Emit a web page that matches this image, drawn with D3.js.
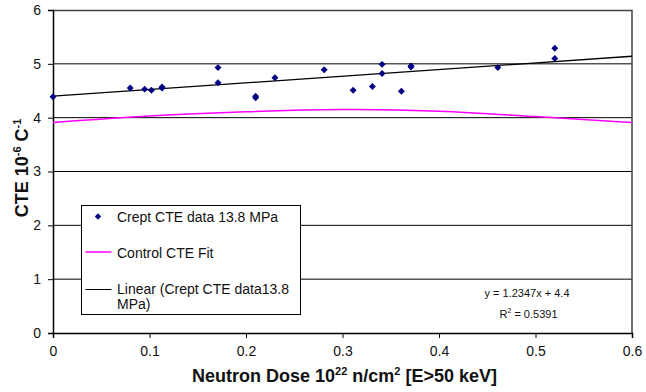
<!DOCTYPE html>
<html>
<head>
<meta charset="utf-8">
<script src="https://cdn.jsdelivr.net/npm/d3@7"></script>
<style>
  body { margin: 0; background: #fff; }
  text { font-family: "Liberation Sans", Arial, sans-serif; }
</style>
</head>
<body>
<div id="chart"></div>
<script>
// crept CTE measurements (dose 10^22 n/cm2, CTE 10^-6 /C)
const doseX = [0, 0.08, 0.095, 0.102, 0.113, 0.113, 0.171, 0.171, 0.21, 0.21, 0.23, 0.281,
               0.311, 0.331, 0.341, 0.341, 0.361, 0.371, 0.371, 0.461, 0.52, 0.52];
const cteY  = [4.39, 4.55, 4.53, 4.51, 4.55, 4.57, 4.93, 4.65, 4.37, 4.40, 4.74, 4.89,
               4.51, 4.58, 4.99, 4.82, 4.49, 4.94, 4.96, 4.93, 5.29, 5.10];

// control CTE fit
const fitX = [0, 0.1, 0.2, 0.3, 0.4, 0.5, 0.6];
const fitY = [3.91, 4.03, 4.11, 4.15, 4.12, 4.02, 3.91];

// linear trendline as printed on the chart
const trendSlope = 1.2347, trendIntercept = 4.4;

const xTicks = [0, 0.1, 0.2, 0.3, 0.4, 0.5, 0.6];
const yTicks = [0, 1, 2, 3, 4, 5, 6];

const margin = ({top: 10, right: 14, bottom: 59, left: 53});
const width = 646 - margin.left - margin.right,
  height = 392 - margin.top - margin.bottom;

const svg = d3.select("#chart")
  .append("svg")
  .attr("width", width + margin.left + margin.right)
  .attr("height", height + margin.top + margin.bottom)
  .append("g")
  .attr("transform", `translate(${margin.left}, ${margin.top})`);

const xScale = d3.scaleLinear().domain([0, 0.6]).range([0, width]);
const yScale = d3.scaleLinear().domain([0, 6]).range([height, 0]);

// gridlines
svg.selectAll(".grid")
  .data(yTicks.filter(d => d > 0 && d < 6))
  .enter().append("line")
  .attr("class", "grid")
  .attr("x1", 0).attr("x2", width)
  .attr("y1", d => yScale(d)).attr("y2", d => yScale(d))
  .attr("stroke", "#000").attr("stroke-width", 1);

// frame top / right
svg.append("path")
  .attr("d", `M0,0.5H${width}V${height}`)
  .attr("fill", "none")
  .attr("stroke", "#444")
  .attr("stroke-width", 1.5);

const xAxis = d3.axisBottom(xScale).tickValues(xTicks).tickSize(5).tickPadding(8)
  .tickFormat(d => d === 0 ? "0" : d3.format(".1f")(d));
const yAxis = d3.axisLeft(yScale).tickValues(yTicks).tickSize(5).tickPadding(7)
  .tickFormat(d3.format("d"));

svg.append("g")
  .attr("class", "axis x-axis")
  .attr("transform", `translate(0, ${height})`)
  .call(xAxis);

svg.append("g")
  .attr("class", "axis y-axis")
  .call(yAxis);

svg.selectAll(".axis path").attr("stroke", "#000").attr("stroke-width", 1.5);
svg.selectAll(".axis line").attr("stroke", "#000");
svg.selectAll(".axis text")
  .attr("font-size", 14)
  .attr("font-family", "Liberation Sans, Arial, sans-serif")
  .attr("fill", "#111");

// control fit curve
const fitLine = d3.line()
  .x((d, i) => xScale(fitX[i]))
  .y(d => yScale(d))
  .curve(d3.curveNatural);

svg.append("path")
  .datum(fitY)
  .attr("d", fitLine)
  .attr("fill", "none")
  .attr("stroke", "#ff00ff")
  .attr("stroke-width", 1.5);

// linear trendline
const trendX = xScale.domain();
svg.append("line")
  .attr("x1", xScale(trendX[0]))
  .attr("y1", yScale(trendSlope * trendX[0] + trendIntercept))
  .attr("x2", xScale(trendX[1]))
  .attr("y2", yScale(trendSlope * trendX[1] + trendIntercept))
  .attr("stroke", "#000")
  .attr("stroke-width", 1.3);

// data markers (diamonds)
const diamond = d3.symbol().type(d3.symbolSquare).size(24);

svg.selectAll(".dot")
  .data(cteY)
  .enter().append("path")
  .attr("class", "dot")
  .attr("d", diamond)
  .attr("transform", (d, i) => `translate(${xScale(doseX[i])}, ${yScale(d)}) rotate(45)`)
  .attr("fill", "#000080");

// equation label
const eq = svg.append("text")
  .attr("x", 474)
  .attr("y", 286.5)
  .attr("text-anchor", "middle")
  .attr("font-size", 11)
  .attr("fill", "#111");
eq.append("tspan").text("y = 1.2347x + 4.4");

const r2 = svg.append("text")
  .attr("x", 475.5)
  .attr("y", 308)
  .attr("text-anchor", "middle")
  .attr("font-size", 11)
  .attr("fill", "#111");
r2.append("tspan").text("R");
r2.append("tspan").attr("font-size", 7).attr("dy", -5).text("2");
r2.append("tspan").attr("dy", 5).text(" = 0.5391");

// legend
const legend = svg.append("g")
  .attr("transform", "translate(28.5, 195.5)");

legend.append("rect")
  .attr("width", 219)
  .attr("height", 109)
  .attr("fill", "#fff")
  .attr("stroke", "#000")
  .attr("stroke-width", 1);

legend.append("path")
  .attr("d", d3.symbol().type(d3.symbolSquare).size(20))
  .attr("transform", "translate(16.5, 11) rotate(45)")
  .attr("fill", "#000080");

legend.append("line")
  .attr("x1", 4).attr("x2", 30)
  .attr("y1", 46.5).attr("y2", 46.5)
  .attr("stroke", "#ff00ff").attr("stroke-width", 1.5);

legend.append("line")
  .attr("x1", 4).attr("x2", 30)
  .attr("y1", 84).attr("y2", 84)
  .attr("stroke", "#000").attr("stroke-width", 1);

const legendText = [
  {y: 16.5, t: "Crept CTE data 13.8 MPa"},
  {y: 52, t: "Control CTE Fit"},
  {y: 88.5, t: "Linear (Crept CTE data13.8"},
  {y: 103, t: "MPa)"}
];

legend.selectAll(".ltext")
  .data(legendText)
  .enter().append("text")
  .attr("class", "ltext")
  .attr("x", 35.5)
  .attr("y", d => d.y)
  .attr("font-size", 14)
  .attr("fill", "#111")
  .text(d => d.t);

// axis titles
const xTitle = svg.append("text")
  .attr("x", width / 2 + 2)
  .attr("y", height + 48.7)
  .attr("text-anchor", "middle")
  .attr("font-size", 18)
  .attr("font-weight", "bold")
  .attr("fill", "#111");
xTitle.append("tspan").text("Neutron Dose 10");
xTitle.append("tspan").attr("font-size", 11).attr("dy", -7).text("22");
xTitle.append("tspan").attr("dy", 7).text(" n/cm");
xTitle.append("tspan").attr("font-size", 11).attr("dy", -7).text("2");
xTitle.append("tspan").attr("dy", 7).text(" [E>50 keV]");

const yTitle = svg.append("text")
  .attr("transform", `translate(${-25}, ${height / 2 - 3.5}) rotate(-90)`)
  .attr("text-anchor", "middle")
  .attr("font-size", 18)
  .attr("font-weight", "bold")
  .attr("fill", "#111");
yTitle.append("tspan").text("CTE 10");
yTitle.append("tspan").attr("font-size", 11).attr("dy", -7).text("-6");
yTitle.append("tspan").attr("dy", 7).text(" C");
yTitle.append("tspan").attr("font-size", 11).attr("dy", -7).text("-1");
</script>
</body>
</html>
